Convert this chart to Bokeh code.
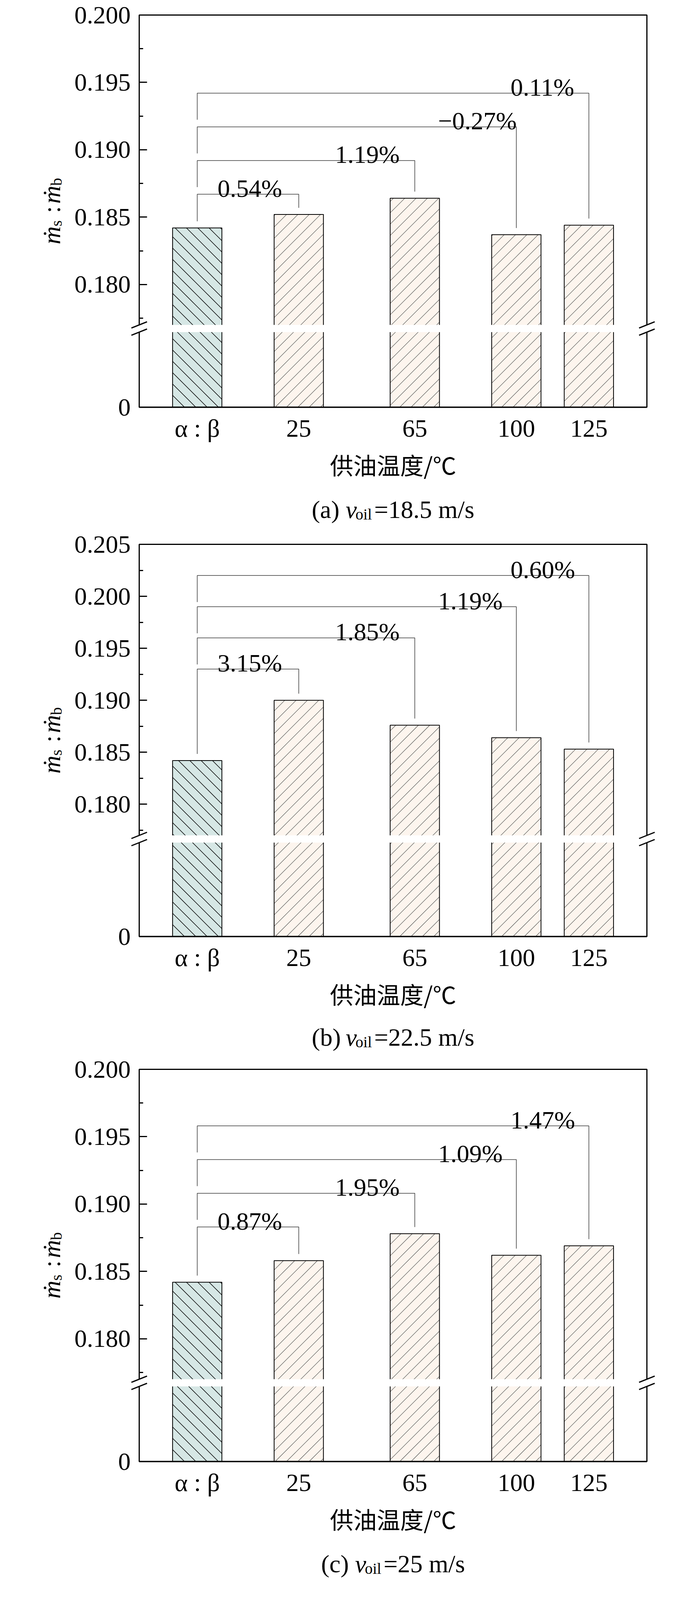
import math
from bokeh.plotting import figure
from bokeh.models import Range1d, FixedTicker, CustomJSTickFormatter, ColumnDataSource
from bokeh.layouts import column
from bokeh.core.properties import value
from bokeh.embed import file_html
from bokeh.resources import INLINE

# ---------------- data ----------------
CATEGORIES = ["α : β", "25", "65", "100", "125"]
X_POS = [-10, 25, 65, 100, 125]          # supply temperature axis (α:β reference placed left)
VALUES_A = [0.1842, 0.1852, 0.1864, 0.1837, 0.1844]
VALUES_B = [0.1842, 0.1900, 0.1876, 0.1864, 0.1853]
VALUES_C = [0.1842, 0.1858, 0.1878, 0.1862, 0.1869]
PCT_A = ["0.54%", "1.19%", "−0.27%", "0.11%"]
PCT_B = ["3.15%", "1.85%", "1.19%", "0.60%"]
PCT_C = ["0.87%", "1.95%", "1.09%", "1.47%"]
Y_TICKS_A = [0.180, 0.185, 0.190, 0.195, 0.200]
Y_TICKS_B = [0.180, 0.185, 0.190, 0.195, 0.200, 0.205]
Y_TICKS_C = [0.180, 0.185, 0.190, 0.195, 0.200]
CAPTION_TAG = ["(a) ", "(b) ", "(c) "]
CAPTION_VALUE = ["=18.5 m/s", "=22.5 m/s", "=25 m/s"]
X_TITLE = "供油温度/℃"
BREAK_AT = 0.177

# ---------------- style ----------------
FW, FH = 1300, 1004
X0, X1 = -30, 145
BAR_W = 17
SERIF = "Liberation Serif"
CJK = "Noto Sans CJK SC"
FS = 64
TIMES_W = {'=': 0.564, '0': 0.5, '1': 0.5, '2': 0.5, '5': 0.5, '8': 0.5, '.': 0.25,
           ' ': 0.25, 'm': 0.778, '/': 0.278, 's': 0.389}
LABEL_X = [-3, 37.5, 73, 98]
TOP_BORDER = 38
HATCH_PX = 29

PANELS = [
    dict(vals=VALUES_A, pct=PCT_A, ticks=Y_TICKS_A, ytop=0.200, span=1048 / 36000.0,
         bbase=0.1867, bstep=0.0025, bborder=313, cap_drop=262),
    dict(vals=VALUES_B, pct=PCT_B, ticks=Y_TICKS_B, ytop=0.205, span=1048 / 27775.0,
         bbase=0.1930, bstep=0.0030, bborder=302, cap_drop=258),
    dict(vals=VALUES_C, pct=PCT_C, ticks=Y_TICKS_C, ytop=0.200, span=1048 / 36000.0,
         bbase=0.1883, bstep=0.0025, bborder=326, cap_drop=262),
]


def hatch_lines(xcs, tops, y0, ppu, xppu, forward):
    """45-degree hatch segments clipped to each bar (computed from the bar data)."""
    a0, b0, a1, b1 = [], [], [], []
    for xc, top in zip(xcs, tops):
        xl = (xc - BAR_W / 2.0 - X0) * xppu
        xr = (xc + BAR_W / 2.0 - X0) * xppu
        yb, yt = 0.0, (top - y0) * ppu
        if forward:
            cmin, cmax = xl - yt, xr - yb
        else:
            cmin, cmax = xl + yb, xr + yt
        for k in range(int(math.floor(cmin / HATCH_PX)), int(math.ceil(cmax / HATCH_PX)) + 1):
            c = k * HATCH_PX
            if forward:          # y = x - c
                xs_, xe_ = max(xl, yb + c), min(xr, yt + c)
                if xe_ - xs_ < 0.5:
                    continue
                pts = (xs_, xs_ - c, xe_, xe_ - c)
            else:                # y = c - x
                xs_, xe_ = max(xl, c - yt), min(xr, c - yb)
                if xe_ - xs_ < 0.5:
                    continue
                pts = (xs_, c - xs_, xe_, c - xe_)
            a0.append(X0 + pts[0] / xppu); b0.append(y0 + pts[1] / ppu)
            a1.append(X0 + pts[2] / xppu); b1.append(y0 + pts[3] / ppu)
    return a0, b0, a1, b1


def put_text(p, y0, txt, style, size, dx, dy, angle=0.0):
    """text anchored at the frame's bottom-left corner, shifted by (dx, dy) screen px"""
    p.text(x=[X0], y=[y0], text=[txt], angle=angle, x_offset=dx, y_offset=dy,
           text_font=value(SERIF), text_font_style=style, text_font_size="%dpx" % size,
           text_align="left", text_baseline="alphabetic", text_color="black",
           level="overlay")


def make_panel(i, cfg):
    vals = cfg["vals"]
    ytop = cfg["ytop"]
    y0 = ytop - cfg["span"]
    ppu = FH / cfg["span"]
    xppu = FW / float(X1 - X0)

    p = figure(frame_width=FW, frame_height=FH,
               x_range=Range1d(X0, X1), y_range=Range1d(y0, ytop),
               min_border_left=356, min_border_right=100, min_border_top=TOP_BORDER,
               min_border_bottom=cfg["bborder"],
               output_backend="svg", toolbar_location=None, tools="")
    p.xgrid.visible = False
    p.ygrid.visible = False
    p.outline_line_color = "black"
    p.outline_line_width = 3
    p.background_fill_color = "white"
    p.border_fill_color = "white"

    # bars: fill, hatch, outline
    ref = ColumnDataSource(dict(x=X_POS[:1], top=vals[:1]))
    oth = ColumnDataSource(dict(x=X_POS[1:], top=vals[1:]))
    p.vbar(x="x", top="top", bottom=y0, width=BAR_W, source=ref,
           fill_color="#d6e7e5", line_color=None)
    p.vbar(x="x", top="top", bottom=y0, width=BAR_W, source=oth,
           fill_color="#fdf5ee", line_color=None)
    h0 = hatch_lines(X_POS[:1], vals[:1], y0, ppu, xppu, forward=False)
    p.segment(*h0, line_color="black", line_width=1.5)
    h1 = hatch_lines(X_POS[1:], vals[1:], y0, ppu, xppu, forward=True)
    p.segment(*h1, line_color="#4d4d4d", line_width=1.1)
    p.vbar(x="x", top="top", bottom=y0, width=BAR_W, source=ref,
           fill_color=None, line_color="black", line_width=2)
    p.vbar(x="x", top="top", bottom=y0, width=BAR_W, source=oth,
           fill_color=None, line_color="black", line_width=2)

    # brackets
    gap = 17.0 / ppu
    leg = 68.0 / ppu
    xs, ys, hs = [], [], []
    for k in range(4):
        h = cfg["bbase"] + k * cfg["bstep"]
        j = k + 1
        lb = vals[0] + gap if k == 0 else h - leg
        xs.append([X_POS[0], X_POS[0], X_POS[j], X_POS[j]])
        ys.append([lb, h, h, vals[j] + gap])
        hs.append(h)
    p.multi_line(xs, ys, line_color="#3a3a3a", line_width=1.5)
    p.text(x=LABEL_X, y=hs, text=cfg["pct"], text_font=value(SERIF),
           text_font_size="%dpx" % FS, text_baseline="alphabetic", text_align="left",
           y_offset=-15, text_color="black")

    # axis break
    g_top = BREAK_AT
    g_bot = BREAK_AT - 18.5 / ppu
    p.quad(left=[X0 - 1.2], right=[X1 + 1.2], bottom=[g_bot], top=[g_top],
           fill_color="white", line_color=None, level="overlay")
    dx = 20.0 / xppu
    dy = 8.0 / ppu
    sx0, sy0, sx1, sy1 = [], [], [], []
    for xe in (X0, X1):
        for yc in (g_top, g_bot):
            sx0.append(xe - dx); sy0.append(yc - dy)
            sx1.append(xe + dx); sy1.append(yc + dy)
    p.segment(sx0, sy0, sx1, sy1, line_color="black", line_width=3, level="overlay")

    # y axis
    yax = p.yaxis[0]
    yax.ticker = FixedTicker(ticks=[y0] + cfg["ticks"],
                             minor_ticks=[t - 0.0025 for t in cfg["ticks"]])
    yax.formatter = CustomJSTickFormatter(args=dict(z=y0),
        code="return Math.abs(tick - z) < 1e-7 ? '0' : tick.toFixed(3);")
    yax.major_tick_in = 20
    yax.major_tick_out = 0
    yax.minor_tick_in = 10
    yax.minor_tick_out = 0
    yax.axis_line_width = 3
    yax.major_tick_line_width = 3
    yax.minor_tick_line_width = 3
    yax.major_label_text_font = SERIF
    yax.major_label_text_font_size = "%dpx" % FS
    yax.major_label_text_color = "black"
    yax.major_label_standoff = 22

    # x axis
    xax = p.xaxis[0]
    xax.ticker = FixedTicker(ticks=X_POS)
    xax.formatter = CustomJSTickFormatter(args=dict(pos=X_POS, labels=CATEGORIES),
        code="const i = pos.indexOf(tick); return i < 0 ? '' : labels[i];")
    xax.major_tick_in = 0
    xax.major_tick_out = 0
    xax.minor_tick_in = 0
    xax.minor_tick_out = 0
    xax.axis_line_width = 3.5
    xax.major_label_text_font = SERIF
    xax.major_label_text_font_size = "%dpx" % FS
    xax.major_label_text_color = "black"
    xax.major_label_standoff = 18
    xax.axis_label = X_TITLE
    xax.axis_label_text_font = CJK
    xax.axis_label_text_font_size = "60px"
    xax.axis_label_text_font_style = "normal"
    xax.axis_label_text_color = "black"
    xax.axis_label_standoff = 10

    # rotated y label  ṁs : ṁb
    start = FH / 2.0 - 85
    pieces = [("ṁ", "italic", FS, 0, 0), ("s", "normal", 40, 46, 12),
              (":", "normal", FS, 80, 0), ("ṁ", "italic", FS, 104, 0),
              ("b", "normal", 40, 150, 12)]
    for txt, st, sz, off, sub in pieces:
        put_text(p, y0, txt, st, sz, -224 + sub, -(start + off), angle=math.pi / 2)

    # caption  (x) v_oil=...
    capval = CAPTION_VALUE[i]
    W = 160 + sum(TIMES_W.get(c, 0.5) for c in capval) * FS
    cx = FW / 2.0 - W / 2.0
    cap_pieces = [(CAPTION_TAG[i], "normal", FS, 0, 0), ("v", "italic", FS, 87, 0),
                  ("oil", "normal", 40, 112, -12), (capval, "normal", FS, 160, 0)]
    for txt, st, sz, off, sub in cap_pieces:
        put_text(p, y0, txt, st, sz, cx + off, cfg["cap_drop"] - sub)
    return p


figs = [make_panel(i, cfg) for i, cfg in enumerate(PANELS)]
layout = column(*figs)
open("out.html", "w").write(file_html(layout, INLINE))
